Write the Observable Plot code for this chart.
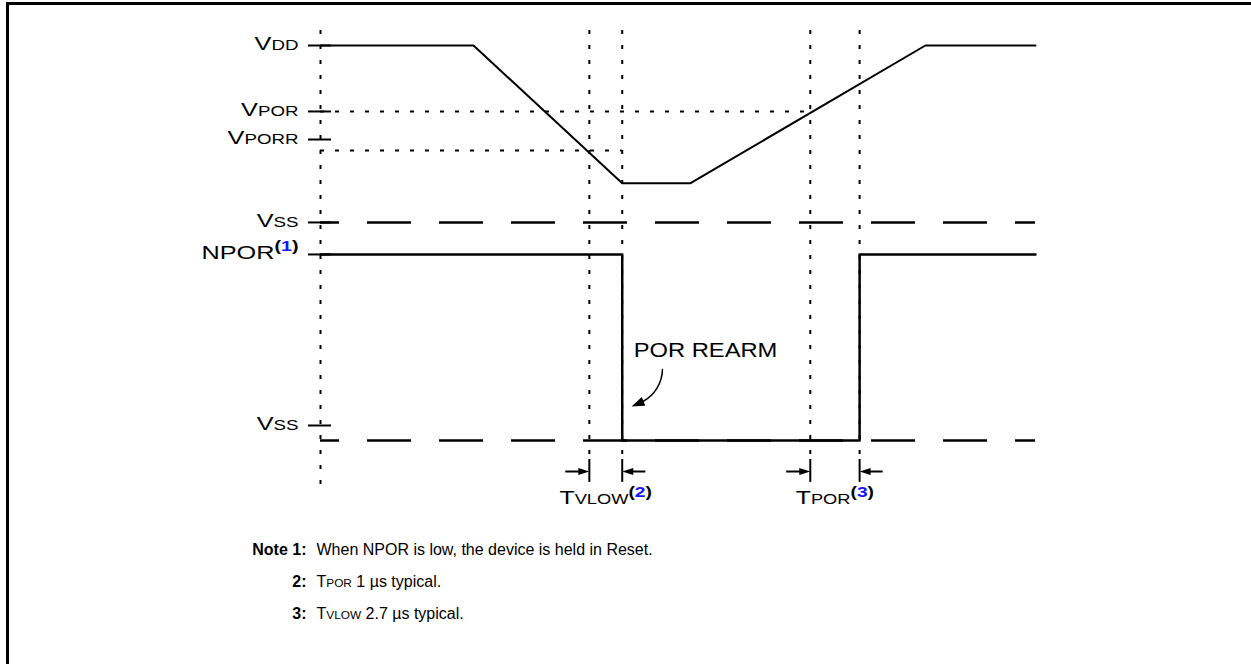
<!DOCTYPE html>
<html>
<head>
<meta charset="utf-8">
<script src="https://cdn.jsdelivr.net/npm/d3@7"></script>
<script src="https://cdn.jsdelivr.net/npm/@observablehq/plot@0.6"></script>
<style>
  html, body { margin: 0; padding: 0; background: #fff; overflow: hidden; }
  #wrap { position: relative; width: 1251px; height: 664px; overflow: hidden; }
  #wrap svg { display: block; position: absolute; left: 0; top: 0; }
  .edge { position: absolute; background: #000; pointer-events: none; }
  #edgeTop { left: 6px; top: 2px; width: 1245px; height: 2.5px; }
  #edgeLeft { left: 6px; top: 2px; width: 2.5px; height: 662px; }
</style>
</head>
<body>
<div id="wrap"><div class="edge" id="edgeTop"></div><div class="edge" id="edgeLeft"></div></div>
<script>
// ---- data (time in arbitrary units 0..100, level in arbitrary units) ----
const vddTime   = [0, 21.4, 42.2, 51.7, 84.6, 100];
const vddLevel  = [100, 100, 65.1, 65.1, 100, 100];
const nporTime  = [0, 42.2, 42.2, 75.4, 75.4, 100];
const nporLevel = [47.1, 47.1, 0, 0, 47.1, 47.1];
const markerTime = [37.6, 42.2, 68.5, 75.4];
const levelLabels = ["V[dd]", "V[por]", "V[porr]", "V[ss]", "NPOR<1>", "V[ss]"];
const levelTicks  = [100, 83.3, 76.2, 55.2, 47.1, 3.8];
const vssLevels = [55.2, 0];
const thresholdLevels = [83.3, 73.4];   // VPOR, VPORR
const thresholdEnd    = [68.5, 42.2];
const intervalLabels = ["T[vlow]<2>", "T[por]<3>"];
const intervalStart = [37.6, 68.5];
const intervalEnd   = [42.2, 75.4];
const rearmLabel = ["POR REARM"];
const noteKeys  = ["Note 1:", "2:", "3:"];
const noteTexts = ["When NPOR is low, the device is held in Reset.", "T[por] 1 µs typical.", "T[vlow] 2.7 µs typical."];
const noteRows  = [-27.6, -35.7, -43.8];

// custom filled arrowhead symbols (tip at origin)
const headRight = { draw(c) { c.moveTo(0, 0); c.lineTo(-11, -3.6); c.lineTo(-11, 3.6); c.closePath(); } };
const headLeft  = { draw(c) { c.moveTo(0, 0); c.lineTo(11, -3.6); c.lineTo(11, 3.6); c.closePath(); } };
const headCurve = { draw(c) { c.moveTo(0, 0); c.lineTo(13.7, -0.9); c.lineTo(10.3, -9.6); c.closePath(); } };

const ink = "#000";
const tag = name => () => name;
const plot = Plot.plot({
  width: 1251, height: 664,
  marginTop: 0, marginRight: 0, marginBottom: 0, marginLeft: 0,
  x: { domain: [0, 100], range: [320, 1035], axis: null },
  y: { domain: [0, 100], range: [440, 45], axis: null },
  style: { fontFamily: "'Liberation Sans', Arial, sans-serif", background: "#fff", color: ink },
  marks: [
    // dotted reference verticals
    Plot.ruleX([0], { y1: 103.8, y2: -11.4, stroke: ink, strokeWidth: 2, strokeDasharray: "4,11" }),
    Plot.ruleX(markerTime, { y1: 103.8, y2: -3.8, stroke: ink, strokeWidth: 2, strokeDasharray: "4,11" }),
    // dotted threshold horizontals
    Plot.ruleY(thresholdLevels, { x1: 0, x2: thresholdEnd, stroke: ink, strokeWidth: 2, strokeDasharray: "4,11" }),
    // dashed VSS lines
    Plot.ruleY(vssLevels, { x1: 0, x2: 100, stroke: ink, strokeWidth: 2.5, strokeDasharray: "44,28", strokeDashoffset: 25 }),
    // traces
    Plot.line(vddTime, { x: vddTime, y: vddLevel, stroke: ink, strokeWidth: 2, curve: "linear" }),
    Plot.line(nporTime, { x: nporTime, y: nporLevel, stroke: ink, strokeWidth: 2.5, curve: "linear" }),
    // left ticks
    Plot.ruleY(levelTicks, { x1: -1.68, x2: 1.54, stroke: ink, strokeWidth: 2 }),
    // level labels
    Plot.text(levelLabels, { x: -1.68, y: levelTicks, text: d => d, textAnchor: "end", dx: -10, dy: -2,
      fontSize: 19, fill: ink, ariaLabel: tag("lvl") }),
    // interval markers
    Plot.ruleX([...intervalStart, ...intervalEnd], { y1: -4.8, y2: -10.6, stroke: ink, strokeWidth: 2 }),
    Plot.ruleY(intervalStart, { x1: d => d - 3.3, x2: d => d - 1, y: -7.85, stroke: ink, strokeWidth: 2 }),
    Plot.ruleY(intervalEnd, { x1: d => d + 1, x2: d => d + 3.3, y: -7.85, stroke: ink, strokeWidth: 2 }),
    Plot.dot(intervalStart, { x: d => d, y: -7.85, symbol: headRight, fill: ink, stroke: null, r: 5 }),
    Plot.dot(intervalEnd, { x: d => d, y: -7.85, symbol: headLeft, fill: ink, stroke: null, r: 5 }),
    Plot.text(intervalLabels, { x: (d, i) => (intervalStart[i] + intervalEnd[i]) / 2, y: -14.6, text: d => d,
      textAnchor: "middle", fontSize: 19, fill: ink, ariaLabel: tag("ivl") }),
    // POR REARM callout
    Plot.text(rearmLabel, { x: 43.8, y: 22.8, text: d => d, textAnchor: "start", fontSize: 21, fill: ink, ariaLabel: tag("rearm") }),
    Plot.arrow(rearmLabel, { x1: 47.83, y1: 17.97, x2: 45.1, y2: 9.87, bend: 30, headLength: 0, stroke: ink, strokeWidth: 1.5 }),
    Plot.dot(rearmLabel, { x: 43.5, y: 8.6, symbol: headCurve, fill: ink, stroke: null, r: 5 }),
    // notes
    Plot.text(noteKeys, { x: -1.96, y: noteRows, text: d => d, textAnchor: "end", fontSize: 16, fontWeight: "bold", fill: ink, ariaLabel: tag("key") }),
    Plot.text(noteTexts, { x: -0.56, y: noteRows, text: d => d, textAnchor: "start", fontSize: 16, fill: ink, ariaLabel: tag("note") })
  ]
});

// rich text: [..] small caps, <n> bold superscript "(n)" with blue digit
function richify(el) {
  const s = el.textContent;
  if (!/[\[<]/.test(s)) return;
  while (el.firstChild) el.removeChild(el.firstChild);
  const ns = "http://www.w3.org/2000/svg";
  const add = (txt, attrs) => {
    const t = document.createElementNS(ns, "tspan");
    for (const k in attrs) t.setAttribute(k, attrs[k]);
    t.textContent = txt; el.appendChild(t);
  };
  const re = /\[([^\]]*)\]|<([^>]*)>|([^\[<]+)/g; let m;
  while ((m = re.exec(s))) {
    if (m[1] != null) add(m[1].toUpperCase(), { "font-size": "0.74em" });
    else if (m[2] != null) {
      add("(", { dy: "-0.48em", "font-size": "0.78em", "font-weight": "bold" });
      add(m[2], { "font-size": "0.78em", "font-weight": "bold", fill: "#1414ff" });
      add(")", { "font-size": "0.78em", "font-weight": "bold" });
    } else add(m[3], {});
  }
}
plot.querySelectorAll("text").forEach(richify);
document.getElementById("wrap").prepend(plot);
// the source drawing's labels are set wider than the font's natural widths
const stretch = { lvl: 1.33, ivl: 1.3, rearm: 1.13 };
plot.querySelectorAll("text[aria-label]").forEach(el => {
  const k = stretch[el.getAttribute("aria-label")];
  if (!k) return;
  const w = el.getComputedTextLength();
  el.setAttribute("textLength", (w * k).toFixed(1));
  el.setAttribute("lengthAdjust", "spacingAndGlyphs");
});
</script>
</body>
</html>
